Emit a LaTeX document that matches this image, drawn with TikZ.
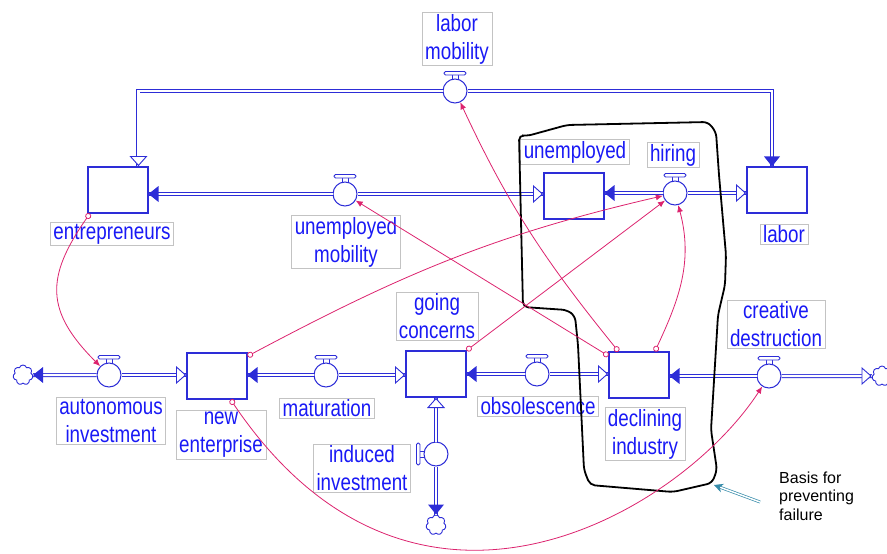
\documentclass[tikz,border=0pt]{standalone}
\usepackage{fontspec}
\newfontfamily\vfont{Liberation Sans}[FakeStretch=0.8]
\newfontfamily\nfont{Liberation Sans}
\usetikzlibrary{shapes.symbols,arrows.meta,calc}
\definecolor{vblue}{RGB}{45,45,215}
\definecolor{tblue}{RGB}{25,25,245}
\definecolor{lgray}{RGB}{195,195,195}
\definecolor{lpink}{RGB}{220,35,110}
\definecolor{tealc}{RGB}{55,140,170}

\tikzset{
  stock/.style={draw=vblue, line width=1.1pt, minimum width=60pt, minimum height=46pt, inner sep=0pt},
  valve/.style={circle, draw=vblue, line width=1pt, fill=white, minimum size=24pt, inner sep=0pt},
  cloudy/.style={cloud, cloud puffs=7, aspect=1, draw=vblue, line width=0.9pt, minimum width=20pt, minimum height=20pt, inner sep=0pt},
  lbl/.style={draw=lgray, line width=0.6pt, text=tblue, align=center, inner xsep=3pt, inner ysep=1.5pt, font=\vfont\fontsize{23.5}{28}\selectfont},
  pipe/.style={draw=vblue, line width=0.9pt, double=white, double distance=2.2pt},
  link/.style={lpink, line width=0.8pt, {Circle[open,length=6pt,width=6pt]}-{Latex[length=7pt,width=6pt]}},
  fhead/.pic={\fill[vblue] (0,0) -- (-10,-8) -- (-10,8) -- cycle;},
  hhead/.pic={\filldraw[draw=vblue, fill=white, line width=0.9pt] (-1,0) -- (-10,-8) -- (-10,8) -- cycle;},
  tap/.pic={\draw[vblue, line width=0.9pt] (-3,-12) -- (-3,-16) (3,-12) -- (3,-16);
    \draw[vblue, line width=0.9pt, fill=white, rounded corners=1.5pt] (-11,-19.5) rectangle (11,-16);}
}

\begin{document}
\begin{tikzpicture}[x=1pt,y=-1pt]
\useasboundingbox (0,0) rectangle (887,554);
% stocks
\node[stock] (en) at (118,190) {};
\node[stock] (ue) at (574,196) {};
\node[stock] (la) at (777,190) {};
\node[stock] (ne) at (217,376) {};
\node[stock] (gc) at (436,374) {};
\node[stock] (di) at (639,375) {};
% valves
\node[valve] (lm) at (455,91) {};
\node[valve] (um) at (345,194) {};
\node[valve] (hi) at (675,193) {};
\node[valve] (ai) at (109,375) {};
\node[valve] (ma) at (326,375) {};
\node[valve] (ob) at (537,374) {};
\node[valve] (cd) at (769,376) {};
\node[valve] (ii) at (436,454) {};
% clouds
\node[cloudy] (cl) at (23,375) {};
\node[cloudy] (cb) at (436,525) {};
\node[cloudy] (cr) at (882,376) {};

% pipes
\draw[pipe] (lm) -| (en.49);
\draw[pipe] (lm) -| (la.102);
\draw[pipe] (um) -- (um -| en.east);
\draw[pipe] (um) -- (um -| ue.west);
\draw[pipe] (hi) -- (hi -| ue.east);
\draw[pipe] (hi) -- (hi -| la.west);
\draw[pipe] (ai) -- (cl);
\draw[pipe] (ai) -- (ai -| ne.west);
\draw[pipe] (ma) -- (ma -| ne.east);
\draw[pipe] (ma) -- (ma -| gc.west);
\draw[pipe] (ob) -- (ob -| gc.east);
\draw[pipe] (ob) -- (ob -| di.west);
\draw[pipe] (cd) -- (cd -| di.east);
\draw[pipe] (cd) -- (cr);
\draw[pipe] (ii) -- (gc);
\draw[pipe] (ii) -- (cb);

% arrow heads on the pipes
\pic[rotate=-90] at (en.49) {hhead};
\pic[rotate=-90] at (la.102) {fhead};
\pic[rotate=180] at (um -| en.east) {fhead};
\pic at (um -| ue.west) {hhead};
\pic[rotate=180] at (hi -| ue.east) {fhead};
\pic at (hi -| la.west) {hhead};
\pic[rotate=180] at (cl.east) {fhead};
\pic at (ai -| ne.west) {hhead};
\pic[rotate=180] at (ma -| ne.east) {fhead};
\pic at (ma -| gc.west) {hhead};
\pic[rotate=180] at (ob -| gc.east) {fhead};
\pic at (ob -| di.west) {hhead};
\pic[rotate=180] at (cd -| di.east) {fhead};
\pic at (cr.west) {hhead};
\pic[rotate=90] at (gc.south) {hhead};
\pic[rotate=-90] at (cb.north) {fhead};

% taps
\foreach \v in {lm,um,hi,ai,ma,ob,cd} \pic at (\v) {tap};
\pic[rotate=90] at (ii) {tap};

% labels
\node[lbl] (tlm) at (457,39) {labor\\mobility};
\node[lbl] (ten) at (112,234) {entrepreneurs};
\node[lbl] (tum) at (346,242) {unemployed\\mobility};
\node[lbl] (tue) at (575,152) {unemployed};
\node[lbl] (thi) at (673,155) {hiring};
\node[lbl] (tla) at (784,234) {labor};
\node[lbl] (tgc) at (437,316) {going\\concerns};
\node[lbl] (tcd) at (776,324) {creative\\destruction};
\node[lbl] (tai) at (111,421) {autonomous\\investment};
\node[lbl] (tne) at (221,435) {new\\enterprise};
\node[lbl] (tma) at (327,408) {maturation};
\node[lbl] (tii) at (362,468) {induced\\investment};
\node[lbl] (tob) at (538,406) {obsolescence};
\node[lbl] (tdi) at (645,434) {declining\\industry};

% hand drawn loop
\draw[line width=1.8pt, rounded corners=5pt] (519,135) -- (527,136) -- (567,125) -- (708,122) -- (716,132)
  -- (719,175) -- (726,255) -- (725,285) -- (718,315) -- (711,430) -- (717,470) -- (712,483)
  -- (673,492) -- (590,485) -- (584,470) -- (578,345) -- (575,316) -- (567,310) -- (523,307) -- cycle;

% links
\draw[link] (en.220) to[out=235, in=135, looseness=1.3] (ai);
\draw[link] (ne.33) to[out=28, in=193] (hi);
\draw[link] (gc.north east) -- (hi);
\draw[link] (di.148) -- (um);
\draw[link] (di.131) to[out=129, in=-65] (lm);
\draw[link] (di.56) to[out=65, in=-75] (hi);
\draw[link] (ne.-60) to[out=-56, in=-123, out looseness=1.58, in looseness=0.72] (cd);

% note
\node[font=\nfont\fontsize{16}{18.5}\selectfont, align=left, inner sep=0pt, anchor=west] (note) at (779,496) {Basis for\\preventing\\failure};
\coordinate (bt) at (714,485);
\draw[tealc, line width=0.7pt, double=white, double distance=1.5pt, -{Stealth[length=9pt,width=9pt]}] ([xshift=-19pt,yshift=-6pt]note.west) -- (bt);
\end{tikzpicture}
\end{document}
